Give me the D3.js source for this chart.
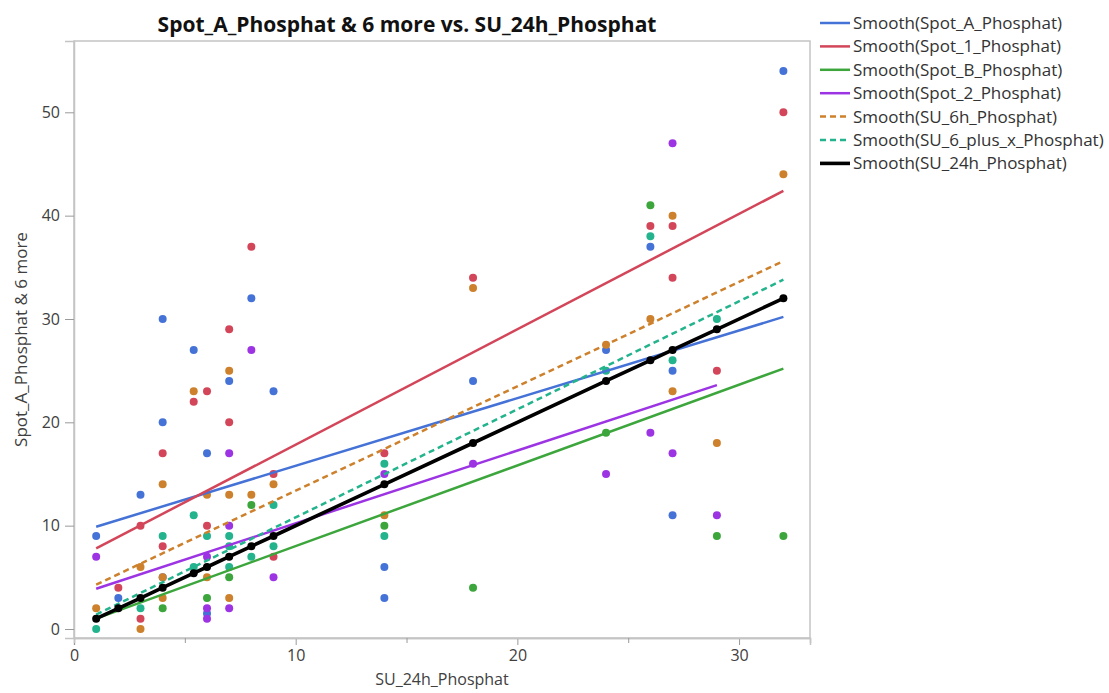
<!DOCTYPE html>
<html>
<head>
<meta charset="utf-8">
<script src="https://cdn.jsdelivr.net/npm/d3@7"></script>
<style>
  html, body { margin: 0; padding: 0; background: #fff; }
  svg { display: block; }
  text { font-family: "Open Sans", "Noto Sans", sans-serif; }
</style>
</head>
<body>
<div id="chart"></div>
<script>
// ---------------- data ----------------
const titleText = "Spot_A_Phosphat & 6 more vs. SU_24h_Phosphat";
const xTitle = "SU_24h_Phosphat";
const yTitle = "Spot_A_Phosphat & 6 more";
const xTicks = [0, 10, 20, 30];
const xMinorTicks = [5, 15, 25];
const yTicks = [0, 10, 20, 30, 40, 50];

const seriesNames = ["Spot_A_Phosphat", "Spot_1_Phosphat", "Spot_B_Phosphat", "Spot_2_Phosphat",
                     "SU_6h_Phosphat", "SU_6_plus_x_Phosphat", "SU_24h_Phosphat"];

// points [SU_24h, value]
const spotA = [[1,9],[2,3],[3,13],[4,30],[4,20],[4,5],[5.4,27],[6,17],[6,1.5],[7,24],[8,32],[9,23],
               [14,6],[14,3],[18,24],[24,27],[26,37],[27,25],[27,11],[32,54]];
const spot1 = [[2,4],[3,10],[3,1],[4,17],[4,8],[5.4,22],[6,23],[6,10],[7,29],[7,20],[8,37],[9,15],[9,7],
               [14,17],[18,34],[26,39],[27,39],[27,34],[29,25],[32,50]];
const spotB = [[4,2],[6,3],[7,5],[8,12],[14,10],[18,4],[24,19],[26,41],[29,9],[32,9]];
const spot2 = [[1,7],[6,7],[6,2],[6,1],[7,17],[7,10],[7,2],[8,27],[9,5],[14,15],[18,16],[24,15],
               [26,19],[27,47],[27,17],[29,11]];
const su6h  = [[1,2],[3,6],[3,0],[4,14],[4,5],[4,3],[5.4,23],[6,13],[6,5],[7,25],[7,13],[7,3],[8,13],[9,14],
               [14,11],[18,33],[24,27.5],[26,30],[27,40],[27,23],[29,18],[32,44]];
const su6x  = [[1,0],[3,2],[4,9],[5.4,11],[5.4,6],[6,9],[7,9],[7,8],[7,6],[8,7],[9,12],[9,8],
               [14,16],[14,9],[24,25],[26,38],[27,26],[29,30]];
const su24x = [1,2,3,4,5.4,6,7,8,9,14,18,24,26,27,29,32];

// smoother end points
const fitA  = [[1,9.9],[32,30.2]];
const fit1  = [[1,7.8],[32,42.4]];
const fitB  = [[1,1.0],[32,25.2]];
const fit2  = [[1,3.9],[29,23.6]];
const fit6h = [[1,4.3],[32,35.6]];
const fit6x = [[1,1.4],[32,33.8]];

// ---------------- chart ----------------
const W = 1109, H = 693;
const plot = { left: 74, right: 810, top: 41, bottom: 638 };

const colors = ["#4572d6", "#d3465a", "#3ca63c", "#9c34e4", "#cd812c", "#23b38d", "#000000"];
const dashes = [null, null, null, null, "6,4", "6,4", null];
const pointSets = [spotA, spot1, spotB, spot2, su6h, su6x, su24x.map(v => [v, v])];
const fits = [fitA, fit1, fitB, fit2, fit6h, fit6x, su24x.map(v => [v, v])];

const x = d3.scaleLinear().domain([0, 33.2]).range([plot.left, plot.right]);
const y = d3.scaleLinear().domain([-0.87, 56.9]).range([plot.bottom, plot.top]);

const svg = d3.select("#chart").append("svg").attr("width", W).attr("height", H);

// frame
svg.append("rect")
  .attr("x", plot.left).attr("y", plot.top)
  .attr("width", plot.right - plot.left).attr("height", plot.bottom - plot.top)
  .attr("fill", "none").attr("stroke", "#c4c4c4").attr("stroke-width", 1.5);

// axes
const xAxis = svg.append("g").attr("transform", `translate(0,${plot.bottom})`)
  .call(d3.axisBottom(x).tickValues(xTicks).tickSize(7).tickPadding(5).tickFormat(d3.format("d")));
const xMinor = svg.append("g").attr("transform", `translate(0,${plot.bottom})`)
  .call(d3.axisBottom(x).tickValues(xMinorTicks).tickSize(5).tickFormat(""));
const yAxis = svg.append("g").attr("transform", `translate(${plot.left},0)`)
  .call(d3.axisLeft(y).tickValues(yTicks).tickSize(9).tickPadding(5).tickFormat(d3.format("d")));

[xAxis, xMinor, yAxis].forEach(g => {
  g.select(".domain").attr("stroke", "#c4c4c4").attr("stroke-width", 1.5);
  g.selectAll(".tick line").attr("stroke", "#9a9a9a");
  g.selectAll(".tick text").attr("fill", "#404040").style("font-size", "16px")
    .style("font-family", "'Open Sans', sans-serif");
});

// points (colored series)
const layer = svg.append("g");
pointSets.forEach((pts, i) => {
  if (i === 6) return;
  layer.selectAll(null).data(pts).enter().append("circle")
    .attr("cx", d => x(d[0])).attr("cy", d => y(d[1])).attr("r", 4)
    .attr("fill", colors[i]);
});

// smoother lines
const line = d3.line().x(d => x(d[0])).y(d => y(d[1]));
fits.forEach((f, i) => {
  layer.append("path").datum(f).attr("d", line)
    .attr("fill", "none").attr("stroke", colors[i])
    .attr("stroke-width", i === 6 ? 3.6 : 2.5)
    .attr("stroke-dasharray", dashes[i]);
});
// black points on top
layer.selectAll(null).data(pointSets[6]).enter().append("circle")
  .attr("cx", d => x(d[0])).attr("cy", d => y(d[1])).attr("r", 4).attr("fill", "#000");

// title
svg.append("text").attr("x", 407).attr("y", 32).attr("text-anchor", "middle")
  .style("font-size", "21px").style("font-weight", "bold").attr("fill", "#111").text(titleText);

// axis titles
svg.append("text").attr("x", (plot.left + plot.right) / 2).attr("y", 685).attr("text-anchor", "middle")
  .style("font-size", "16px").attr("fill", "#404040").text(xTitle);
svg.append("text").attr("transform", `translate(27,${(plot.top + plot.bottom) / 2}) rotate(-90)`)
  .attr("text-anchor", "middle").style("font-size", "17px").attr("fill", "#404040").text(yTitle);

// legend
const leg = svg.append("g");
seriesNames.forEach((n, i) => {
  const ly = 23 + i * 23.4;
  leg.append("line").attr("x1", 820).attr("x2", 850).attr("y1", ly).attr("y2", ly)
    .attr("stroke", colors[i]).attr("stroke-width", i === 6 ? 3.6 : 2.5)
    .attr("stroke-dasharray", dashes[i]);
  leg.append("text").attr("x", 853).attr("y", ly).attr("dy", "0.35em")
    .style("font-size", "17px").attr("fill", "#333").text(`Smooth(${n})`);
});
</script>
</body>
</html>
